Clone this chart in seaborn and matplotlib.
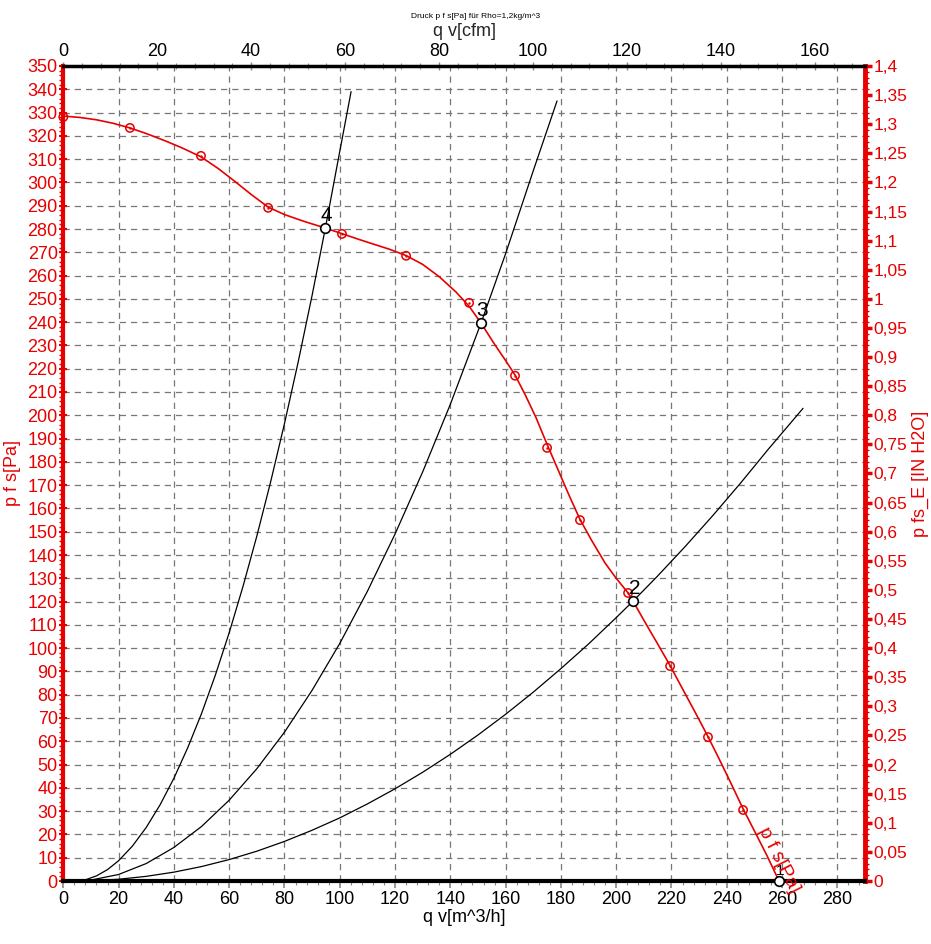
import matplotlib
matplotlib.use("Agg")
import matplotlib.pyplot as plt
import matplotlib.ticker as mticker
import seaborn as sns
from matplotlib import font_manager

# ---------------- data ----------------
# fan curve p_fs [Pa] vs q_v [m^3/h]
fan_q = [0, 6, 12, 18, 24.1, 30, 37, 43, 49.8, 56, 62, 68, 74.1, 80, 87, 94.8, 100.8, 107, 113, 118,
         124.0, 130, 136, 142, 146.8, 151.1, 156, 160, 163.4, 167, 171, 175.0, 179, 183, 186.9, 191,
         196, 200, 204.3, 206.1, 210, 215, 219.5, 224, 229, 233.2, 237, 241.5, 245.9, 250, 254.5, 258.9]
fan_p = [328.5, 327.9, 326.9, 325.4, 323.4, 321.0, 317.8, 314.8, 311.0, 306.0, 300.5, 294.8, 289.4,
         286.2, 283.3, 280.4, 278.0, 275.5, 273.2, 271.3, 268.6, 264.8, 259.5, 253.0, 246.8, 239.6,
         230.5, 223.5, 217.3, 209.0, 199.0, 187.5, 176.5, 165.5, 155.3, 146.5, 136.5, 130.0, 123.7,
         120.2, 112.0, 101.8, 92.5, 82.5, 71.5, 62.0, 53.0, 42.0, 31.0, 21.5, 11.0, 0]
# measured points (open circle markers)
meas_q = [0, 24.1, 49.8, 74.1, 100.8, 124.0, 146.8, 163.4, 175.0, 186.9, 204.3, 219.5, 233.2, 245.9]
meas_p = [328.1, 323.4, 311.4, 289.1, 277.9, 268.5, 248.3, 217.0, 186.0, 155.0, 123.7, 92.3, 61.8, 30.5]
# system curves
sys4_q = [4, 8, 12, 16, 20, 25, 30, 35, 40, 45, 50, 55, 60, 65, 70, 75, 80, 85, 90, 94.8, 100, 104.1]
sys4_p = [0, 0.5, 2.2, 4.9, 8.7, 15.0, 23.0, 32.7, 44.1, 57.2, 71.9, 88.4, 106.6, 126.5, 148.1,
          171.4, 196.4, 223.1, 251.5, 280.4, 313.3, 339]
sys3_q = [4, 10, 20, 30, 40, 50, 60, 70, 80, 90, 100, 110, 120, 130, 140, 151.1, 160, 170, 178.6]
sys3_p = [0, 0.4, 2.8, 7.5, 14.4, 23.4, 34.7, 48.2, 63.9, 81.9, 102.0, 124.4, 149.0, 175.7, 204.7,
          239.6, 269.4, 305.0, 335]
sys2_q = [4, 10, 20, 30, 40, 50, 60, 70, 80, 90, 100, 110, 120, 130, 140, 150, 160, 170, 180, 190,
          200, 206.1, 215, 225, 235, 245, 255, 267.6]
sys2_p = [0, 0.1, 0.75, 2.0, 3.8, 6.2, 9.2, 12.8, 17.0, 21.8, 27.1, 33.1, 39.6, 46.7, 54.4, 62.7,
          71.6, 81.1, 91.2, 101.8, 113.1, 120.2, 131.0, 143.7, 157.0, 170.9, 185.4, 203]
# operating points
op_labels = ["1", "2", "3", "4"]
op_q = [258.9, 206.1, 151.1, 94.8]
op_p = [0, 120.2, 239.6, 280.4]

bottom_ticks = list(range(0, 281, 20))
top_ticks = list(range(0, 161, 20))
left_ticks = list(range(0, 351, 10))

# ---------------- style ----------------
sns.set_theme(style="white")
avail = {f.name for f in font_manager.fontManager.ttflist}
fam = [f for f in ["Liberation Sans Narrow", "Liberation Sans", "DejaVu Sans"] if f in avail]
plt.rcParams["font.family"] = fam

RED = "#e60000"
fig = plt.figure(figsize=(9.31, 9.44), dpi=100)
ax = fig.add_axes([63.3 / 931, 1 - 881 / 944, (865 - 63.3) / 931, (881 - 66) / 944])

# grid
for q in bottom_ticks[1:]:
    ax.axvline(q, color="#777777", lw=0.9, ls=(0, (5, 4)), zorder=0)
for p in left_ticks[1:]:
    ax.axhline(p, color="#777777", lw=0.9, ls=(0, (5, 4)), zorder=0)

# system curves
for qq, pp in [(sys4_q, sys4_p), (sys3_q, sys3_p), (sys2_q, sys2_p)]:
    sns.lineplot(x=qq, y=pp, ax=ax, color="black", lw=0.9, estimator=None, sort=False, zorder=2)

# fan curve
sns.lineplot(x=fan_q, y=fan_p, ax=ax, color=RED, lw=1.2, estimator=None, sort=False, zorder=3)
sns.scatterplot(x=meas_q, y=meas_p, ax=ax, marker="o", s=36, facecolor="none",
                edgecolor=RED, linewidth=1.1, zorder=4, clip_on=False)
sns.scatterplot(x=meas_q, y=meas_p, ax=ax, marker="o", s=3, color=RED,
                linewidth=0, zorder=4, clip_on=False)

# operating points
sns.scatterplot(x=op_q, y=op_p, ax=ax, marker="o", s=48, facecolor="white",
                edgecolor="black", linewidth=1.2, zorder=5, clip_on=False)
for lab, q, p in zip(op_labels, op_q, op_p):
    fs = 11 if lab == "1" else 15
    ax.annotate(lab, (q, p), xytext=(1, 2), textcoords="offset points",
                ha="center", va="bottom", fontsize=fs, color="black", zorder=6)

ax.text(258.8, 9, "p f s[Pa]", color=RED, fontsize=14, rotation=-63,
        ha="center", va="center", rotation_mode="anchor", clip_on=False, zorder=6)

# limits and ticks
ax.set_xlim(0, 290)
ax.set_ylim(0, 350)
ax.xaxis.set_major_locator(mticker.FixedLocator(bottom_ticks))
ax.xaxis.set_minor_locator(mticker.MultipleLocator(4))
ax.yaxis.set_major_locator(mticker.FixedLocator(left_ticks))
ax.yaxis.set_minor_locator(mticker.MultipleLocator(2))
ax.tick_params(axis="x", which="major", direction="out", length=5, width=1.2, color="#888888",
               labelsize=13, labelcolor="black", pad=2)
ax.tick_params(axis="x", which="minor", direction="out", length=3, width=0.8, color="#888888")
ax.tick_params(axis="y", which="major", direction="inout", length=6, width=1.5, color=RED,
               labelsize=13, labelcolor=RED, pad=1)
ax.tick_params(axis="y", which="minor", direction="out", length=3, width=1.0, color=RED)
ax.tick_params(which="both", bottom=True, left=True, top=False, right=False)

for side, col, w in [("left", RED, 3), ("right", RED, 3.5), ("top", "black", 2.5), ("bottom", "black", 3)]:
    ax.spines[side].set_color(col)
    ax.spines[side].set_linewidth(w)
    ax.spines[side].set_visible(True)

ax.set_xlabel("q v[m^3/h]", fontsize=13, color="black", labelpad=1)
ax.set_ylabel("p f s[Pa]", fontsize=13, color=RED, labelpad=5)

# top axis in cfm
CFM = 0.5886
top = ax.secondary_xaxis("top", functions=(lambda q: q * CFM, lambda c: c / CFM))
top.xaxis.set_major_locator(mticker.FixedLocator(top_ticks))
top.xaxis.set_minor_locator(mticker.MultipleLocator(4))
top.tick_params(which="major", direction="inout", length=6, width=1.0, color="#888888",
                labelsize=13, labelcolor="black", pad=1)
top.tick_params(which="minor", direction="inout", length=4, width=0.8, color="#888888")
top.spines["top"].set_visible(False)
top.set_xlabel("q v[cfm]", fontsize=13, labelpad=5)

# right axis in inH2O
right = ax.secondary_yaxis("right", functions=(lambda p: p / 250.0, lambda v: v * 250.0))
right.yaxis.set_major_locator(mticker.MultipleLocator(0.05))
right.yaxis.set_minor_locator(mticker.MultipleLocator(0.01))
right.yaxis.set_major_formatter(mticker.FuncFormatter(
    lambda v, pos: ("%.2f" % v).rstrip("0").rstrip(".").replace(".", ",")))
right.tick_params(which="major", direction="out", length=5, width=2.5, color=RED,
                  labelsize=12.5, labelcolor=RED, pad=1)
right.tick_params(which="minor", direction="out", length=3, width=1.0, color=RED)
right.spines["right"].set_visible(False)
right.set_ylabel("p fs_E [IN H2O]", fontsize=13, color=RED, labelpad=3)

fig.text(476 / 931, 1 - 16 / 944, "Druck p f s[Pa] für Rho=1,2kg/m^3", fontsize=6,
         ha="center", va="center", color="black")

fig.savefig("out.png", dpi=100, facecolor="white")
